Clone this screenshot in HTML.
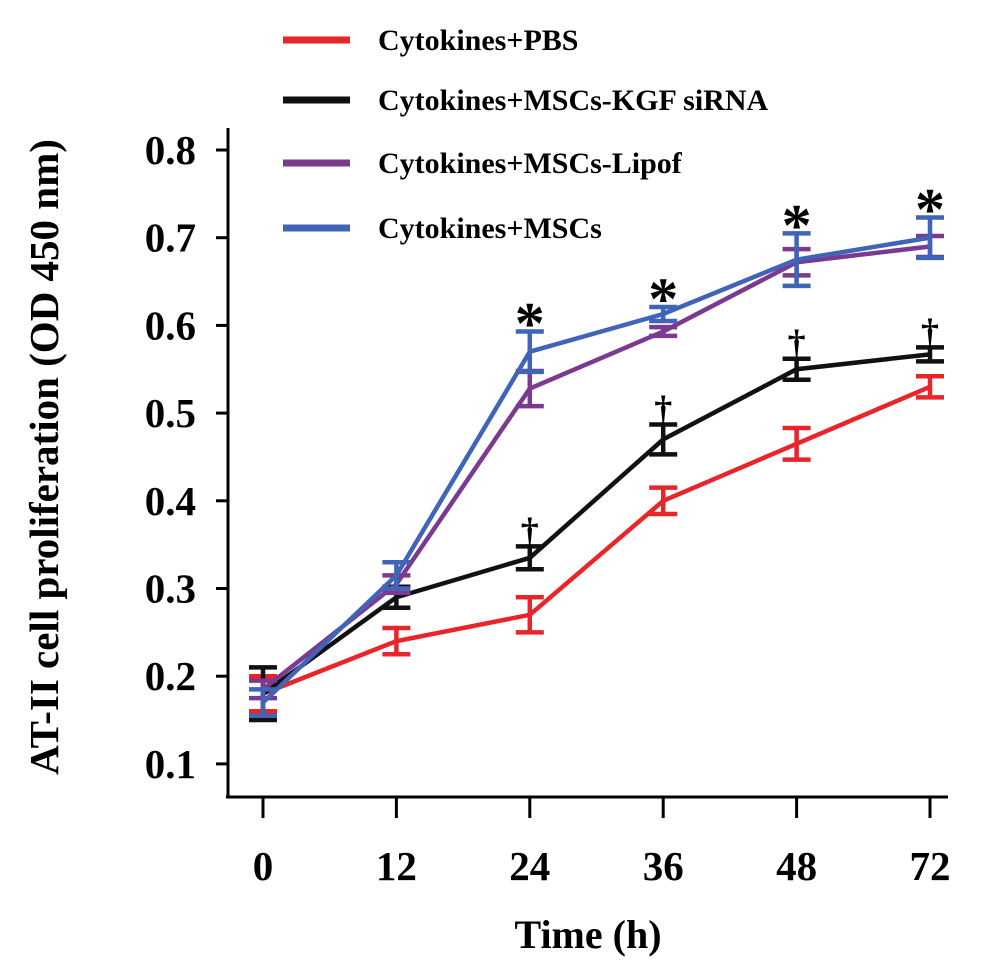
<!DOCTYPE html>
<html><head><meta charset="utf-8"><style>
html,body{margin:0;padding:0;background:#fff;}
svg{display:block;font-family:"Liberation Serif",serif;font-weight:bold;}
</style></head><body>
<svg id="chart" width="986" height="965" viewBox="0 0 986 965">
<g id="axes"></g><g id="series"></g><g id="legend"></g><g id="marks"></g>
</svg>
<script>
const categories = ["0","12","24","36","48","72"];
const yTicks = [0.1,0.2,0.3,0.4,0.5,0.6,0.7,0.8];
const seriesNames = ["Cytokines+PBS","Cytokines+MSCs-KGF siRNA","Cytokines+MSCs-Lipof","Cytokines+MSCs"];
const seriesColors = ["#e8262a","#111111","#7b3a8f","#3f64b8"];
const pbsValues = [0.18,0.24,0.27,0.40,0.465,0.53];
const pbsErrors = [0.02,0.015,0.02,0.015,0.018,0.012];
const kgfValues = [0.18,0.29,0.335,0.47,0.55,0.567];
const kgfErrors = [0.03,0.012,0.013,0.017,0.012,0.008];
const lipofValues = [0.185,0.305,0.528,0.593,0.672,0.69];
const lipofErrors = [0.01,0.01,0.02,0.005,0.015,0.012];
const mscValues = [0.17,0.315,0.57,0.613,0.675,0.70];
const mscErrors = [0.015,0.015,0.023,0.008,0.03,0.023];
const starIdx = [2,3,4,5];
const daggerIdx = [2,3,4,5];

const NS="http://www.w3.org/2000/svg";
function yS(v){return 150+(0.8-v)*877;}
function xS(i){return 263+i*133.4;}
function mk(tag,attrs,parent,text){const e=document.createElementNS(NS,tag);for(const k in attrs)e.setAttribute(k,attrs[k]);if(text!==undefined)e.textContent=text;parent.appendChild(e);return e;}
const axes=document.getElementById('axes');
let e=mk('line',{x1:228,y1:128,x2:228,y2:798,stroke:'#000','stroke-width':3},axes);


e=mk('line',{x1:226,y1:797,x2:948,y2:797,stroke:'#000','stroke-width':3},axes);


yTicks.forEach(v=>{
  mk('line',{x1:216,y1:yS(v),x2:228,y2:yS(v),stroke:'#000','stroke-width':3},axes);
  const t=mk('text',{x:196,y:yS(v)+14,'text-anchor':'end','font-size':41},axes,v.toFixed(1));
  
  
});
categories.forEach((c,i)=>{
  mk('line',{x1:xS(i),y1:797,x2:xS(i),y2:818,stroke:'#000','stroke-width':3},axes);
  const t=mk('text',{x:xS(i),y:880,'text-anchor':'middle','font-size':41},axes,c);
  
  
});
e=mk('text',{x:588,y:948,'text-anchor':'middle','font-size':40},axes,'Time (h)');


e=mk('text',{x:0,y:0,'text-anchor':'middle','font-size':41,transform:'translate(58,457) rotate(-90)'},axes,'AT-II cell proliferation (OD 450 nm)');



const ser=document.getElementById('series');
const allVals=[pbsValues,kgfValues,lipofValues,mscValues];
const allErr=[pbsErrors,kgfErrors,lipofErrors,mscErrors];
allVals.forEach((vals,s)=>{
  const g=mk('g',{},ser);
  
  
  const pts=vals.map((v,i)=>xS(i)+','+yS(v)).join(' ');
  const pl=mk('polyline',{points:pts,fill:'none',stroke:seriesColors[s],'stroke-width':4.5},g);
  
  
  vals.forEach((v,i)=>{
    const x=xS(i),lo=yS(v-allErr[s][i]),hi=yS(v+allErr[s][i]);
    const p=mk('path',{d:`M${x},${lo}V${hi}M${x-14},${lo}H${x+14}M${x-14},${hi}H${x+14}`,stroke:seriesColors[s],'stroke-width':4.5,fill:'none'},g);
    
    
  });
});
const marks=document.getElementById('marks');
starIdx.forEach(i=>{
  const top=mscValues[i]+mscErrors[i];
  const t=mk('text',{x:xS(i),y:yS(top)+12,'text-anchor':'middle','font-size':60},marks,'*');
  
  
});
daggerIdx.forEach(i=>{
  const top=kgfValues[i]+kgfErrors[i];
  const t=mk('text',{x:xS(i),y:yS(top)-4,'text-anchor':'middle','font-size':36},marks,'†');
  
  
});
const leg=document.getElementById('legend');
const legY=[40,100,163,228];
seriesNames.forEach((n,s)=>{
  const g=mk('g',{},leg);
  
  
  mk('line',{x1:283,y1:legY[s],x2:350,y2:legY[s],stroke:seriesColors[s],'stroke-width':7},g);
  mk('text',{x:378,y:legY[s]+10,'font-size':30},g,n);
});
</script>
</body></html>
